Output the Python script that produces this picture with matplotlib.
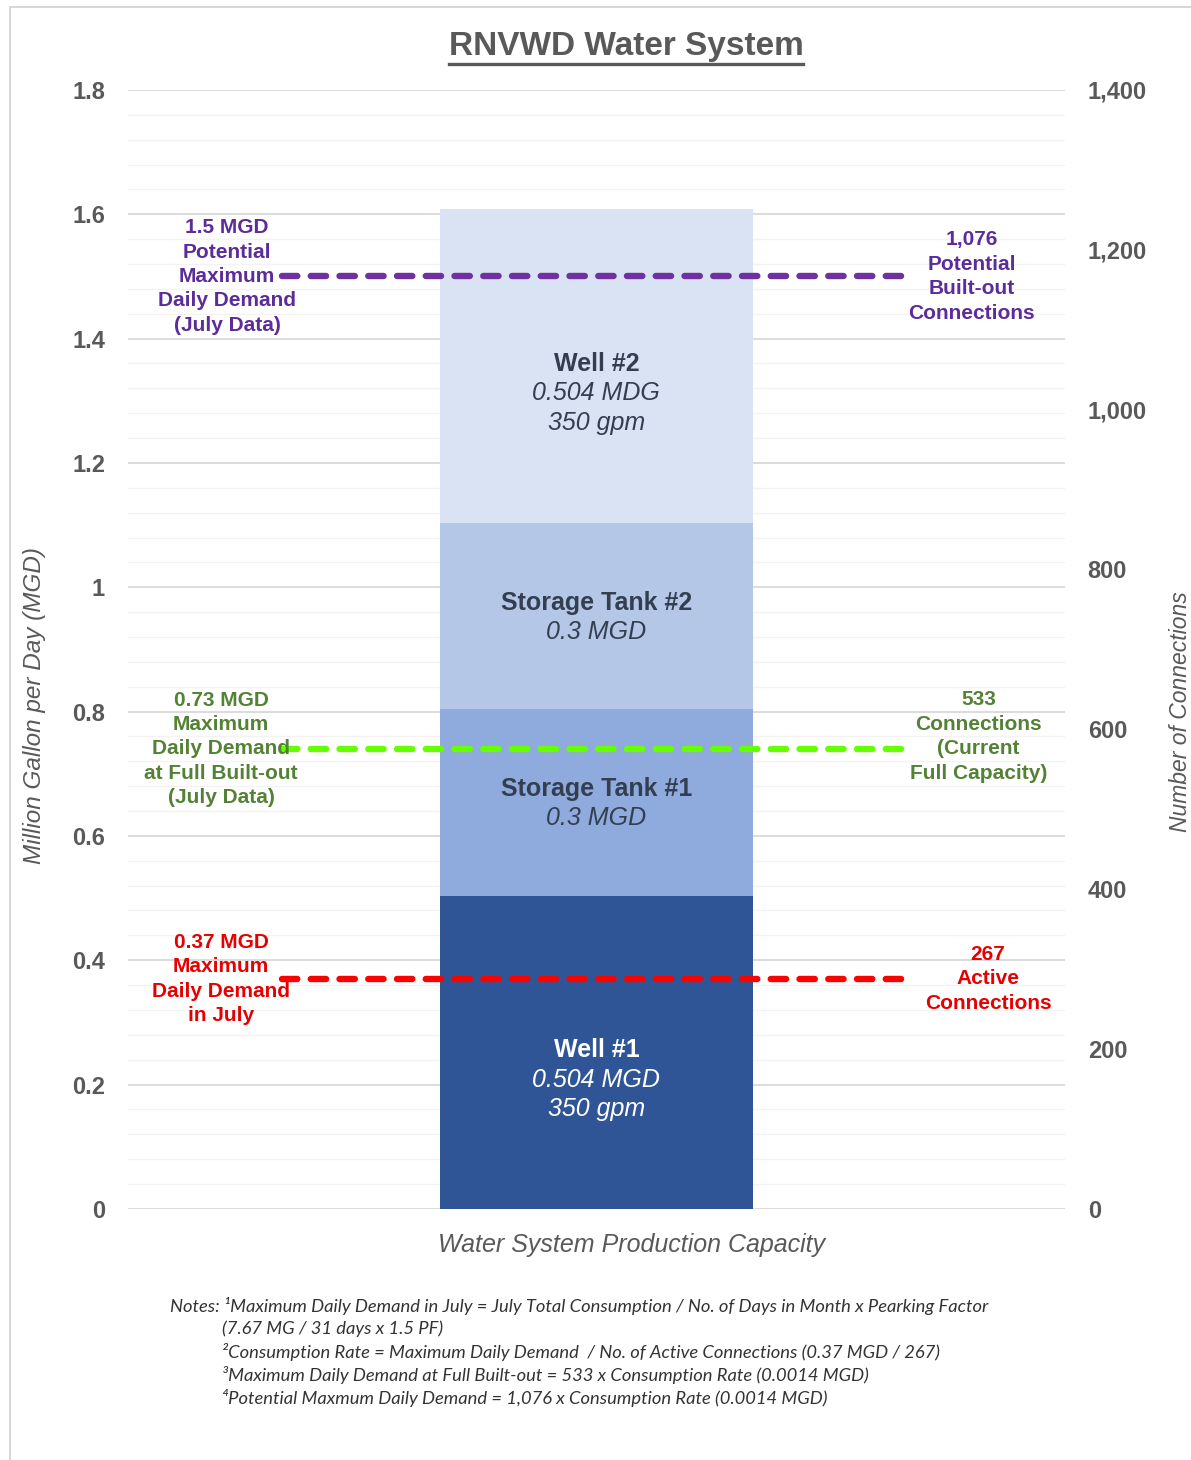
import matplotlib
matplotlib.use("Agg")
import matplotlib.pyplot as plt
from matplotlib import font_manager
from matplotlib.lines import Line2D
from matplotlib.patches import Rectangle
from matplotlib.ticker import FuncFormatter, MultipleLocator
from matplotlib.transforms import blended_transform_factory

# --- data -----------------------------------------------------------------
components = ["Well #1", "Storage Tank #1", "Storage Tank #2", "Well #2"]
capacity_mgd = [0.504, 0.3, 0.3, 0.504]
component_notes = [["0.504 MGD", "350 gpm"], ["0.3 MGD"], ["0.3 MGD"], ["0.504 MDG", "350 gpm"]]
component_colors = ["#2F5597", "#8FAADC", "#B4C7E7", "#DAE3F3"]

demand_mgd = [0.37, 0.74, 1.5]
demand_left_labels = [
    "0.37 MGD\nMaximum\nDaily Demand\nin July",
    "0.73 MGD\nMaximum\nDaily Demand\nat Full Built-out\n(July Data)",
    "1.5 MGD\nPotential\nMaximum\nDaily Demand\n(July Data)",
]
demand_right_labels = [
    "267\nActive\nConnections",
    "533\nConnections\n(Current\nFull Capacity)",
    "1,076\nPotential\nBuilt-out\nConnections",
]
line_colors = ["#FF0000", "#66FF00", "#7030A0"]
text_colors = ["#E60000", "#548235", "#5B2C9A"]

left_ticks = [0, 0.2, 0.4, 0.6, 0.8, 1, 1.2, 1.4, 1.6, 1.8]
right_ticks = [0, 200, 400, 600, 800, 1000, 1200, 1400]

notes = [
    "Notes: \u00b9Maximum Daily Demand in July = July Total Consumption / No. of Days in Month x Pearking Factor",
    "(7.67 MG / 31 days x 1.5 PF)",
    "\u00b2Consumption Rate = Maximum Daily Demand  / No. of Active Connections (0.37 MGD / 267)",
    "\u00b3Maximum Daily Demand at Full Built-out = 533 x Consumption Rate (0.0014 MGD)",
    "\u2074Potential Maxmum Daily Demand = 1,076 x Consumption Rate (0.0014 MGD)",
]

# --- fonts -----------------------------------------------------------------
available = {f.name for f in font_manager.fontManager.ttflist}
plt.rcParams["font.family"] = ["Liberation Sans", "DejaVu Sans"]
note_font = "Liberation Sans Narrow" if "Liberation Sans Narrow" in available else "Lato"

grey = "#595959"

fig = plt.figure(figsize=(11.91, 14.6), dpi=100)
ax = fig.add_axes([0.1075, 0.172, 0.7865, 0.7664])

# thin page frame
fig.patches.append(Rectangle((10 / 1191, -0.01), 1.1, 1 - 7 / 1460 + 0.01,
                             transform=fig.transFigure, fill=False,
                             edgecolor="#D0D0D0", linewidth=1.2))

# stacked bar
bottom = 0
step = 0.047  # line step inside the bar, in MGD
for name, val, note, col in zip(components, capacity_mgd, component_notes, component_colors):
    ax.bar(0.5, val, width=0.334, bottom=bottom, color=col, zorder=2)
    txt_col = "white" if col == "#2F5597" else "#333F50"
    mid = bottom + val / 2
    top = mid + (0.003 if len(note) == 2 else 0.021)
    ax.text(0.5, top, name, ha="center", va="center",
            fontsize=18, fontweight="bold", color=txt_col, zorder=4)
    for k, line in enumerate(note):
        ax.text(0.5, top - step * (k + 1), line, ha="center", va="center",
                fontsize=18, fontstyle="italic", color=txt_col, zorder=4)
    bottom += val

# demand lines and labels
trans = blended_transform_factory(ax.transAxes, ax.transData)
left_x = [0.0993, 0.0993, 0.1057]
right_x = [0.918, 0.908, 0.9007]
right_dy = [0.0, 0.02, 0.0]
for y, lc, tc, ll, rl, lx, rx, dy in zip(demand_mgd, line_colors, text_colors,
                                         demand_left_labels, demand_right_labels,
                                         left_x, right_x, right_dy):
    ax.plot([0.164, 0.829], [y, y], color=lc, linewidth=4.6, linestyle=(0, (2.4, 2.1)),
            dash_capstyle="round", transform=trans, zorder=3)
    ax.text(lx, y, ll, transform=trans, ha="center", va="center", fontsize=15,
            fontweight="bold", color=tc, linespacing=1.36, zorder=5)
    ax.text(rx, y + dy, rl, transform=trans, ha="center", va="center", fontsize=15,
            fontweight="bold", color=tc, linespacing=1.36, zorder=5)

# left axis
ax.set_xlim(0, 1)
ax.set_ylim(0, 1.8)
ax.set_yticks(left_ticks)
ax.set_yticklabels([f"{t:g}" for t in left_ticks])
ax.yaxis.set_minor_locator(MultipleLocator(0.04))
ax.grid(axis="y", which="major", color="#D9D9D9", linewidth=1.3, zorder=0)
ax.grid(axis="y", which="minor", color="#F3F3F3", linewidth=1.0, zorder=0)
ax.set_axisbelow(True)
ax.set_xticks([])
ax.tick_params(axis="y", which="both", length=0, pad=16.5, labelsize=17, labelcolor=grey)
for lab in ax.get_yticklabels():
    lab.set_fontweight("bold")
for s in ax.spines.values():
    s.set_visible(False)
ax.set_ylabel("Million Gallon per Day (MGD)", fontsize=17.5, fontstyle="italic", color=grey)
ax.yaxis.set_label_coords(-0.0875, 0.45)
ax.set_xlabel("Water System Production Capacity", fontsize=18, fontstyle="italic", color=grey)
ax.xaxis.set_label_coords(0.538, -0.022)

# right axis
ax2 = ax.twinx()
ax2.set_ylim(0, 1400)
ax2.set_yticks(right_ticks)
ax2.yaxis.set_major_formatter(FuncFormatter(lambda v, p: f"{int(v):,}"))
ax2.tick_params(axis="y", length=0, pad=16.5, labelsize=17, labelcolor=grey)
for lab in ax2.get_yticklabels():
    lab.set_fontweight("bold")
for s in ax2.spines.values():
    s.set_visible(False)
ax2.set_ylabel("Number of Connections", fontsize=16.5, fontstyle="italic", color=grey)
ax2.yaxis.set_label_coords(1.111, 0.444)

# title with underline
title = fig.text(626 / 1191, 1 - 47 / 1460, "RNVWD Water System", ha="center", va="center",
                 fontsize=24, fontweight="bold", color=grey)
fig.canvas.draw()
bb = title.get_window_extent(fig.canvas.get_renderer()).transformed(fig.transFigure.inverted())
fig.add_artist(Line2D([bb.x0, bb.x1], [bb.y0 - 0.001, bb.y0 - 0.001], color=grey,
                      linewidth=2.4, transform=fig.transFigure))

# notes
note_x = [170, 222, 222, 222, 222]
for i, (line, nx) in enumerate(zip(notes, note_x)):
    fig.text(nx / 1191, 1 - (1306 + 23 * i) / 1460, line, ha="left", va="center",
             fontsize=13.2, fontstyle="italic", color="#333333",
             family=[note_font, "DejaVu Sans"])

fig.savefig("out.png", dpi=100)
